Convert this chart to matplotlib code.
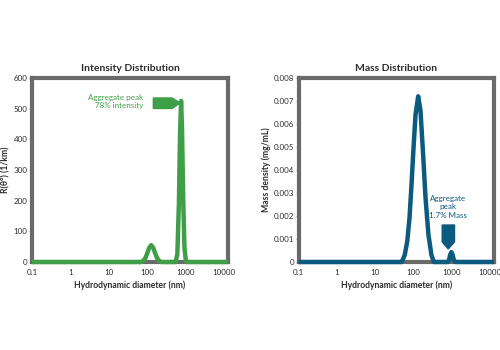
import matplotlib
matplotlib.use("Agg")
import matplotlib.pyplot as plt
from matplotlib.patches import Polygon

# Intensity distribution (diameter nm, R(theta) 1/km)
intensity_d = [0.1, 70, 80, 90, 100, 115, 129, 145, 165, 185, 210, 240,
               560, 620, 680, 730, 776, 820, 880, 950, 1030, 1100, 13000]
intensity_r = [0, 0, 4, 12, 26, 47, 55, 47, 27, 12, 3, 0,
               0, 26, 190, 419, 525, 438, 211, 47, 5, 0, 0]

# Mass distribution (diameter nm, mg/mL)
mass_d = [0.1, 50, 60, 70, 80, 90, 100, 115, 135, 155, 180, 210, 250, 300, 350,
          800, 870, 930, 1000, 1070, 1150, 1250, 13000]
mass_m = [0, 0, 0.0003, 0.0009, 0.0019, 0.0033, 0.0047, 0.0064, 0.0072, 0.0066,
          0.0048, 0.0028, 0.0012, 0.0003, 0,
          0, 0.0001, 0.00032, 0.00043, 0.00032, 0.0001, 0, 0]

x_ticks = [0.1, 1, 10, 100, 1000, 10000]
x_tick_labels = ["0.1", "1", "10", "100", "1000", "10000"]
intensity_yticks = [0, 100, 200, 300, 400, 500, 600]
mass_yticks = [0, 0.001, 0.002, 0.003, 0.004, 0.005, 0.006, 0.007, 0.008]
mass_ytick_labels = ["0", "0.001", "0.002", "0.003", "0.004", "0.005",
                     "0.006", "0.007", "0.008"]

GREEN = "#3f9f48"
BLUE = "#0c5a7d"
FRAME = "#6a6a6a"
TEXT = "#2b2b2b"

plt.rcParams['font.family'] = ['Lato', 'DejaVu Sans']

fig = plt.figure(figsize=(5, 3.5), dpi=100)
ax1 = fig.add_axes([0.064, 0.2514, 0.392, 0.526])
ax2 = fig.add_axes([0.597, 0.2514, 0.391, 0.526])


def style_axes(ax, title, ylabel):
    ax.set_xscale("log")
    ax.set_xlim(0.1, 13000)
    ax.set_xticks(x_ticks)
    ax.set_xticklabels(x_tick_labels)
    ax.minorticks_off()
    for sp in ax.spines.values():
        sp.set_linewidth(3.0)
        sp.set_color(FRAME)
    ax.tick_params(axis="x", length=0, pad=5, labelsize=5.8, labelcolor=TEXT)
    ax.tick_params(axis="y", length=2, width=0.8, color="#bbbbbb", pad=1.2,
                   labelsize=5.8, labelcolor=TEXT)
    ax.set_title(title, fontsize=7.5, fontweight="bold", color=TEXT, pad=5)
    ax.set_xlabel("Hydrodynamic diameter (nm)", fontsize=6.2,
                  fontweight="bold", color=TEXT, labelpad=3)
    ax.set_ylabel(ylabel, fontsize=6.2, fontweight="bold", color=TEXT,
                  labelpad=2)


# left panel
ax1.plot(intensity_d, intensity_r, color=GREEN, lw=3.2, zorder=3,
         clip_on=False, solid_capstyle="butt")
ax1.set_ylim(0, 600)
ax1.set_yticks(intensity_yticks)
style_axes(ax1, "Intensity Distribution", "R(θ°) (1/km)")
ax1.text(0.566, 0.872, "Aggregate peak\n78% intensity", transform=ax1.transAxes,
         ha="right", va="center", fontsize=5.8, color=GREEN, linespacing=1.25)
ax1.add_patch(Polygon([(0.619, 0.891), (0.715, 0.891), (0.756, 0.864),
                       (0.715, 0.834), (0.619, 0.834)],
                      closed=True, transform=ax1.transAxes, color=GREEN,
                      zorder=4))

# right panel
ax2.plot(mass_d, mass_m, color=BLUE, lw=3.2, zorder=3,
         clip_on=False, solid_capstyle="butt")
ax2.set_ylim(0, 0.008)
ax2.set_yticks(mass_yticks)
ax2.set_yticklabels(mass_ytick_labels)
style_axes(ax2, "Mass Distribution", "Mass density (mg/mL)")
ax2.text(0.764, 0.299, "Aggregate\npeak\n1.7% Mass", transform=ax2.transAxes,
         ha="center", va="center", fontsize=5.8, color=BLUE, linespacing=1.25)
ax2.add_patch(Polygon([(0.735, 0.201), (0.798, 0.201), (0.798, 0.109),
                       (0.766, 0.071), (0.735, 0.109)],
                      closed=True, transform=ax2.transAxes, color=BLUE,
                      zorder=4))

fig.savefig("out.png", dpi=100, facecolor="white")
